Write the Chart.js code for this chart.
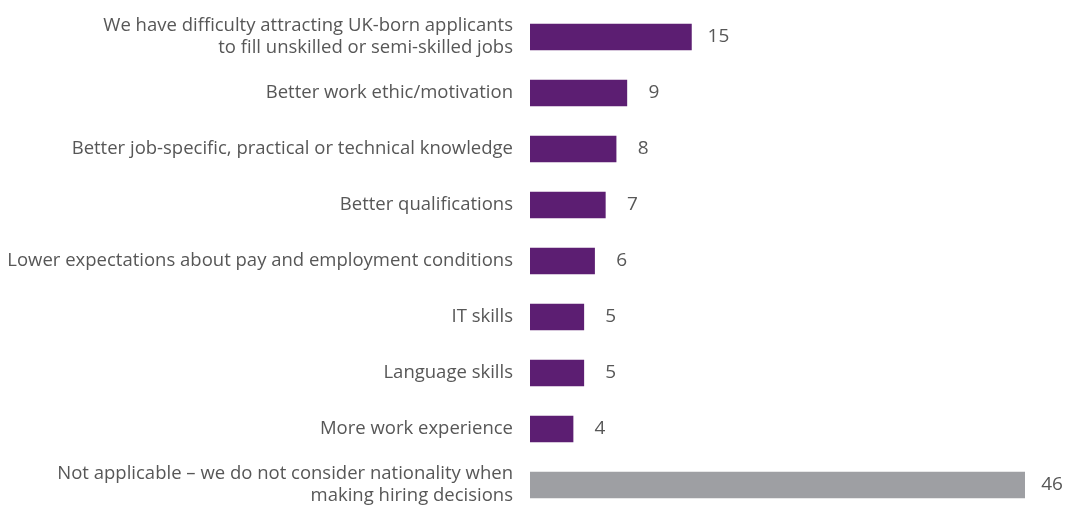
<!DOCTYPE html>
<html>
<head>
<meta charset="utf-8">
<script src="https://cdn.jsdelivr.net/npm/chart.js@4/dist/chart.umd.min.js"></script>
<style>
  html, body { margin: 0; padding: 0; background: #ffffff; overflow: hidden; }
  #wrap { width: 1065px; height: 515px; position: relative; }
</style>
</head>
<body>
<div id="wrap"><canvas id="chart"></canvas></div>
<script>
// Reasons for hiring non-UK nationals (% of employers)
const categories = [
  ['We have difficulty attracting UK-born applicants', 'to fill unskilled or semi-skilled jobs'],
  'Better work ethic/motivation',
  'Better job-specific, practical or technical knowledge',
  'Better qualifications',
  'Lower expectations about pay and employment conditions',
  'IT skills',
  'Language skills',
  'More work experience',
  ['Not applicable \u2013 we do not consider nationality when', 'making hiring decisions']
];
const values = [15, 9, 8, 7, 6, 5, 5, 4, 46];
const barColors = ['#5c1e72', '#5c1e72', '#5c1e72', '#5c1e72', '#5c1e72', '#5c1e72', '#5c1e72', '#5c1e72', '#9e9fa3'];

const textColor = '#575757';
const fontFamily = '"Open Sans", "DejaVu Sans", sans-serif';

// Writes each value just past the end of its bar
const valueLabels = {
  id: 'valueLabels',
  afterDatasetsDraw(chart) {
    const ctx = chart.ctx;
    const meta = chart.getDatasetMeta(0);
    ctx.save();
    ctx.fillStyle = textColor;
    ctx.font = '19px ' + fontFamily;
    ctx.textAlign = 'center';
    ctx.textBaseline = 'middle';
    meta.data.forEach((bar, i) => {
      ctx.fillText(String(values[i]), bar.x + 27, bar.y);
    });
    ctx.restore();
  }
};

new Chart(document.getElementById('chart'), {
  type: 'bar',
  data: {
    labels: categories,
    datasets: [{
      data: values,
      backgroundColor: barColors,
      barThickness: 26
    }]
  },
  options: {
    indexAxis: 'y',
    responsive: true,
    maintainAspectRatio: false,
    animation: false,
    layout: { padding: { top: 9, bottom: 2, left: 0, right: 40 } },
    plugins: { legend: { display: false }, tooltip: { enabled: false } },
    scales: {
      x: {
        display: false,
        min: 0,
        max: 46
      },
      y: {
        offset: true,
        grid: { display: false, drawTicks: false },
        border: { display: false },
        afterFit(scale) {
          scale.width = 530;
          scale.paddingTop = 0;
          scale.paddingBottom = 0;
        },
        ticks: {
          padding: 17,
          color: textColor,
          font: { family: fontFamily, size: 18.5, lineHeight: 1.18 }
        }
      }
    }
  },
  plugins: [valueLabels]
});
</script>
</body>
</html>
